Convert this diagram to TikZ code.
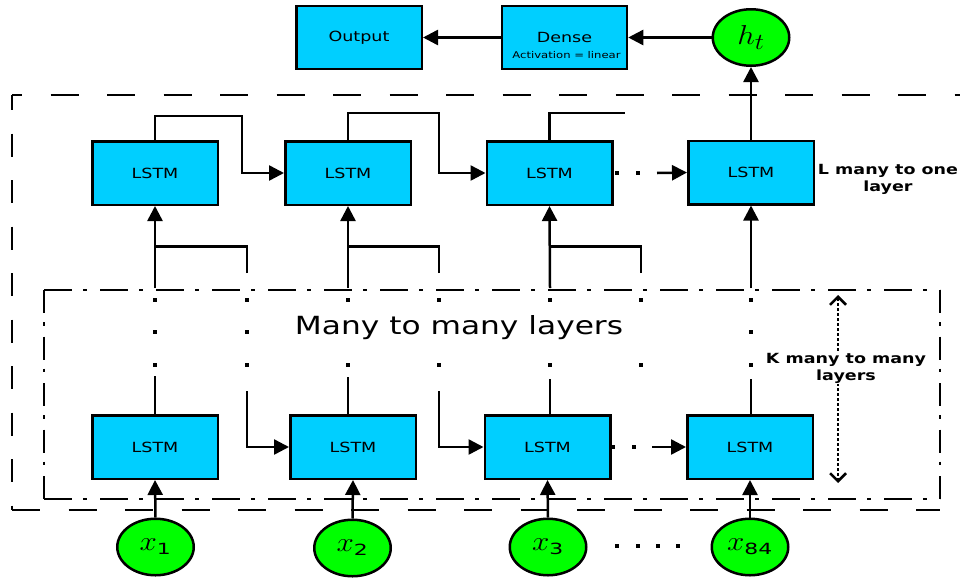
\documentclass[tikz,border=0pt]{standalone}
\usepackage{fontspec}
\setmainfont{DejaVu Sans}[FakeStretch=1.25]
\usepackage{graphicx}
\usetikzlibrary{arrows.meta,shapes.geometric,calc}

\definecolor{cellcyan}{RGB}{0,207,255}
\definecolor{vargreen}{RGB}{0,255,0}

\tikzset{
  cell/.style={draw, line width=2.5pt, fill=cellcyan, minimum width=125.5pt,
    minimum height=63.5pt, inner sep=0pt, font=\fontsize{14}{16}\selectfont},
  var/.style={draw, ellipse, line width=2.5pt, fill=vargreen, minimum width=76.5pt,
    minimum height=56.5pt, inner sep=0pt, font=\fontsize{24.88}{28}\selectfont},
  conn/.style={line width=2.5pt},
  arr/.style={conn, -{Triangle[length=15pt,width=15pt]}},
  boldlbl/.style={font=\fontsize{14}{17}\bfseries\selectfont, align=center, inner sep=1pt},
  outerH/.style={line width=2.8pt, dash pattern=on 28pt off 28.5pt},
  outerV/.style={line width=2.8pt, dash pattern=on 23pt off 23.5pt, dash phase=8pt},
  innerH/.style={line width=2.3pt, dash pattern=on 28pt off 11pt on 4pt off 13pt},
  innerV/.style={line width=2.3pt, dash pattern=on 23pt off 9pt on 3.5pt off 11pt},
}
\newcommand{\sqdot}[2]{\fill (#1-2,#2-2) rectangle ++(4,4);}
% variable with an upright subscript, set wide
\newcommand{\wmath}[2]{\scalebox{1.25}[1.1]{$#1_{\hbox{\fontsize{14}{16}\selectfont #2}}$}}
% variable with an italic subscript, set wide
\newcommand{\wmathit}[2]{\scalebox{1.25}[1.1]{$#1_{#2}$}}

\begin{document}
\begin{tikzpicture}[x=1pt,y=-1pt]
\useasboundingbox (0,0) rectangle (960,581);

% ---- frames ----
\draw[outerH, dash phase=18pt] (12,95) -- (962,95);
\draw[outerV] (12,95) -- (12,510);
\draw[outerH] (12,510) -- (940,510);
\draw[innerH] (44,290) -- (940,290);
\draw[innerH] (44,499) -- (940,499);
\draw[innerV] (44,290) -- (44,499);
\draw[innerV] (940,290) -- (940,499);

% ---- output head ----
\node[cell, minimum height=63pt] (out) at (359,37.5) {Output};
\node[cell, minimum height=63pt, minimum width=125pt] (dense) at (564.5,37.5) {};
\node[font=\fontsize{14}{16}\selectfont, inner sep=0pt] (densetxt) at (564.5,37.5) {Dense};
\node[font=\fontsize{9.3}{11}\selectfont, inner sep=0pt] (denseact) at (566.5,55) {Activation = linear};
\node[var] (ht) at (751,37.5) {\wmathit{h}{t}};

% ---- LSTM cells ----
\node[cell] (L1) at (155,173) {LSTM};
\node[cell] (L2) at (348,173) {LSTM};
\node[cell] (L3) at (549.5,173) {LSTM};
\node[cell] (L4) at (751,172.5) {LSTM};
\node[cell] (B1) at (155,447) {LSTM};
\node[cell] (B2) at (353,447) {LSTM};
\node[cell] (B3) at (547.5,447) {LSTM};
\node[cell] (B4) at (750,447) {LSTM};

% ---- inputs ----
\node[var] (x1) at (155.5,547) {\wmath{x}{1}};
\node[var] (x2) at (352.5,548) {\wmath{x}{2}};
\node[var] (x3) at (548,547) {\wmath{x}{3}};
\node[var] (x84) at (750,547) {\wmath{x}{84}};

% ---- free ends of connectors ----
\coordinate (t1) at (242,116);
\coordinate (t2) at (439,113);
\coordinate (t3) at (625,113);
\coordinate (td) at (657,173);
\coordinate (bd) at (652,447);
\coordinate (u1) at (155,288);
\coordinate (u2) at (348,288);
\coordinate (u3) at (550,288);
\coordinate (u4) at (751,288);
\coordinate (r1) at (247,273);
\coordinate (r2) at (439,273);
\coordinate (r3) at (641,273);
\coordinate (s1) at (247,391);
\coordinate (s2) at (439,391);
\coordinate (kTop) at (838,295);
\coordinate (kBot) at (838,483);

% ---- head connectors ----
\draw[arr] (ht.west) -- (dense.east);
\draw[arr] (dense.west) -- (out.east);
\draw[arr] (L4.north) -- (ht.south);

% ---- recurrent links, upper layer ----
\draw[arr] (L1.north) |- (t1) |- (L2.west);
\draw[arr] (L2.north) |- (t2) |- (L3.west);
\draw[conn] (L3.north) |- (t3);
\sqdot{617}{173}\sqdot{638}{173}
\draw[arr] (td) -- (L4.west);

% ---- vertical links into the upper layer ----
\draw[arr] (u1) -- (L1.south);
\draw[arr] (u2) -- (L2.south);
\draw[arr] (u3) -- (L3.south);
\draw[arr] (u4) -- (L4.south);
\draw[conn] (r1) |- (u1 |- 0,246.5);
\draw[conn] (r2) |- (u2 |- 0,246.5);
\draw[conn] (r3) |- (u3 |- 0,246.5);

% ---- lower layer ----
\draw[conn] (B1.north) -- ++(0,-38);
\draw[conn] (B2.north -| u2) -- ++(0,-37);
\draw[conn] (B3.north -| u3) -- ++(0,-35);
\draw[conn] (B4.north -| u4) -- ++(0,-35);
\draw[arr] (s1) |- (B2.west);
\draw[arr] (s2) |- (B3.west);
\sqdot{613}{447}\sqdot{634}{447}
\draw[arr] (bd) -- (B4.west);

% ---- stacked layers left out ----
\foreach \x in {155,247,751} {\sqdot{\x}{300}\sqdot{\x}{332}\sqdot{\x}{365}}
\foreach \x in {348,439,550,641} {\sqdot{\x}{300}\sqdot{\x}{365}}

% ---- inputs into the lower layer ----
\draw[arr] (x1.north) -- (B1.south);
\draw[arr] (x2.north) -- (B2.south);
\draw[arr] (x3.north) -- (B3.south);
\draw[arr] (x84.north) -- (B4.south);
\foreach \x in {617,638,658,678} {\sqdot{\x}{545.5}}

% ---- labels ----
\node[font=\fontsize{25}{28}\selectfont, inner sep=0pt] (mtm) at (459,328) {Many to many layers};
\draw[line width=2.5pt, dash pattern=on 2.5pt off 2.5pt,
  {Straight Barb[length=8pt,width=16pt]}-{Straight Barb[length=8pt,width=16pt]}] (kTop) -- (kBot);
\node[boldlbl, fill=white] (ktxt) at (846,368) {K many to many\\layers};
\node[boldlbl] (ltxt) at (888,179) {L many to one\\layer};
\end{tikzpicture}
\end{document}
